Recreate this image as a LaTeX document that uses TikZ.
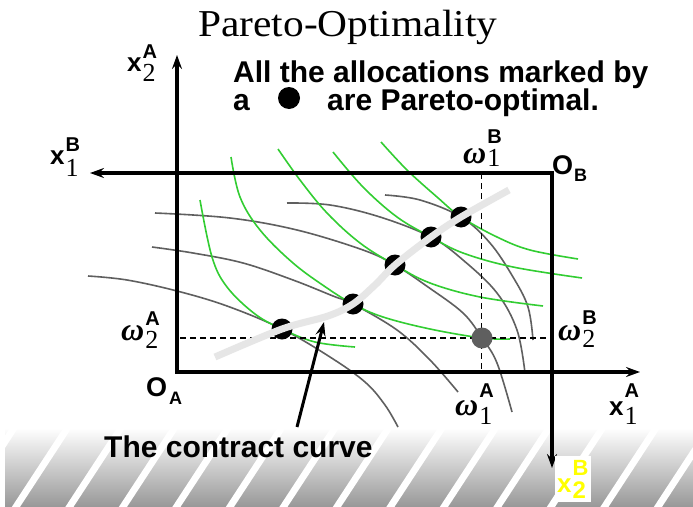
\documentclass[tikz,border=0pt]{standalone}
\usepackage{fontspec}
\setmainfont{Liberation Serif}
\setsansfont{Liberation Sans}
\usetikzlibrary{arrows.meta}
\definecolor{icgreen}{RGB}{50,205,50}
\definecolor{icgrey}{RGB}{95,95,95}
\definecolor{ccurve}{RGB}{230,230,230}
\definecolor{lblyellow}{RGB}{255,255,0}
\newcommand{\fsz}[1]{\fontsize{#1}{#1}\selectfont}
\newcommand{\xl}{{\fsz{26}\sffamily\bfseries x}}
\newcommand{\Ol}{{\fsz{27}\sffamily\bfseries O}}
\newcommand{\wl}{{\fsz{32}\rmfamily\bfseries\itshape ω}}
\newcommand{\subd}[2]{\rlap{\raisebox{-#1}{\fsz{26}\rmfamily #2}}}
\newcommand{\supl}[2]{\raisebox{#1}{\fsz{20}\sffamily\bfseries #2}}
\newcommand{\subl}[2]{\raisebox{-#1}{\fsz{18}\sffamily\bfseries #2}}
\tikzset{
  axisline/.style={line width=3.2pt, line cap=rect, -{Stealth[length=14pt,width=10pt,inset=5pt]}},
  guide/.style={line width=1.5pt, dash pattern=on 6pt off 4pt},
  icA/.style={icgreen, line width=1.6pt},
  icB/.style={icgrey, line width=1.6pt},
  pdot/.style={circle, fill=black, inner sep=0pt, minimum size=21pt},
  endow/.style={circle, fill=icgrey, inner sep=0pt, minimum size=21pt},
  lbl/.style={inner sep=0pt, anchor=base west},
  ccline/.style={ccurve, line width=7pt},
  pointer/.style={line width=3pt, -{Stealth[length=14pt,width=10pt,inset=5pt]}},
}
\begin{document}
\begin{tikzpicture}[x=1pt,y=-1pt]
\useasboundingbox (0,0) rectangle (693,506);
\fill[white] (0,0) rectangle (693,506);
% hatched band
\begin{scope}
\clip (5,428) rectangle (693,506);
\shade[top color=white, bottom color=black!40] (5,428) rectangle (693,506);
\foreach \k in {-2,...,13}
  \draw[white, line width=6.8pt] ({16.5+53.5*\k-2.6},510) -- ++(58.8,-90);
\end{scope}
% coordinates
\coordinate (OA) at (177,372);
\coordinate (yA) at (177,55);
\coordinate (xA) at (640,372);
\coordinate (OB) at (552,173);
\coordinate (xB) at (90,173);
\coordinate (yB) at (552,468);
\coordinate (g1t) at (481.5,173);
\coordinate (g1b) at (481.5,372);
\coordinate (g2l) at (180,338);
\coordinate (g2r) at (552,338);
% indifference curves of B (grey)
\draw[icB] plot[smooth, tension=0.6] coordinates {(88,276) (127,280) (177,291) (227,306) (282,329) (330,357) (365,382) (385,405) (398,427)};
\draw[icB] plot[smooth, tension=0.6] coordinates {(152,247) (193,253) (243,263) (293,280) (333,296) (353,304) (397,330) (430,360) (458,392)};
\draw[icB] plot[smooth, tension=0.6] coordinates {(155,213) (230,218) (297,230) (363,250) (395,265) (428,287) (463,313) (482,338) (497,363) (512,412)};
\draw[icB] plot[smooth, tension=0.6] coordinates {(287,203) (330,205) (380,217) (431,237) (463,260) (497,293) (517,330) (525,373)};
\draw[icB] plot[smooth, tension=0.6] coordinates {(385,195) (420,200) (461,217) (490,243) (513,277) (528,307) (533,340)};
% indifference curves of A (green)
\draw[icA] plot[smooth, tension=0.6] coordinates {(200,200) (212,257) (227,287) (255,314) (282,329) (315,342) (355,347)};
\draw[icA] plot[smooth, tension=0.6] coordinates {(231,157) (240,197) (260,230) (293,263) (327,288) (353,304) (383,317) (430,329) (482,338) (510,339)};
\draw[icA] plot[smooth, tension=0.6] coordinates {(278,149) (300,180) (327,213) (360,243) (395,265) (430,283) (480,297) (543,306)};
\draw[icA] plot[smooth, tension=0.6] coordinates {(333,152) (363,187) (397,217) (431,237) (463,253) (513,267) (582,278)};
\draw[icA] plot[smooth, tension=0.6] coordinates {(381,142) (407,170) (437,197) (461,217) (497,237) (530,250) (578,259)};
% guides
\draw[guide] (g1t) -- (g1b);
\draw[guide] (g2l) -- (g2r);
% axes
\draw[axisline] (OA) -- (yA);
\draw[axisline] (OA) -- (xA);
\draw[axisline] (OB) -- (xB);
\draw[axisline] (OB) -- (yB);
% Pareto optimal points
\node[pdot] (p1) at (282,329) {};
\node[pdot] (p2) at (353,304) {};
\node[pdot] (p3) at (395,265) {};
\node[pdot] (p4) at (431,237) {};
\node[pdot] (p5) at (461,217) {};
\coordinate (c0) at (215,357);
\coordinate (c6) at (509,190);
\draw[ccline] plot[smooth, tension=0.55] coordinates {(c0) (p1.center) (328,316) (p2.center) (375,285) (p3.center) (p4.center) (p5.center) (c6)};
\node[endow] (E) at (482,338) {};
% title and text
\node[lbl] (title) at (198,36) {\scalebox{1.09}[1]{\fsz{38}\rmfamily Pareto-Optimality}};
\node[lbl] (t1) at (233,82) {\fsz{30}\sffamily\bfseries All the allocations marked by};
\node[lbl] (t2a) at (233,110) {\fsz{30}\sffamily\bfseries a};
\node[pdot, minimum size=22pt] (t2dot) at (289,98) {};
\node[lbl] (t2b) at (327,110) {\fsz{30}\sffamily\bfseries are Pareto-optimal.};
% axis labels
\node[lbl] (lx2A) at (127,71) {\xl\kern1pt\subd{10pt}{2}\supl{13pt}{A}};
\node[lbl] (lx1B) at (50,164) {\xl\kern1pt\subd{12pt}{1}\supl{13pt}{B}};
\node[lbl] (lOB) at (552,174) {\Ol\kern1pt\subl{7pt}{B}};
\node[lbl] (lOA) at (146,396) {\Ol\kern2pt\subl{8pt}{A}};
\node[lbl] (lw1B) at (463,163) {\wl\kern1pt\subd{3pt}{1}\supl{20pt}{B}};
\node[lbl] (lw2A) at (121,340) {\wl\kern1pt\subd{8pt}{2}\supl{15pt}{A}};
\node[lbl] (lw2B) at (558,340) {\wl\kern1pt\subd{7pt}{2}\supl{16pt}{B}};
\node[lbl] (lw1A) at (455,415) {\wl\kern1pt\subd{9pt}{1}\supl{18pt}{A}};
\node[lbl] (lx1A) at (609,415) {\xl\kern1pt\subd{9pt}{1}\supl{18pt}{A}};
\node[lbl, fill=white, inner xsep=2pt, inner ysep=4pt, text=lblyellow] (lx2B) at (555,492) {\xl\kern1pt\rlap{\raisebox{-6pt}{\fsz{24}\sffamily\bfseries 2}}\raisebox{17pt}{\fsz{22}\sffamily\bfseries B}};
% contract curve label and pointer
\node[lbl] (cclabel) at (104,457) {\fsz{30}\sffamily\bfseries The contract curve};
\coordinate (ptail) at (297,427);
\coordinate (ptip) at (324,322);
\draw[pointer] (ptail) -- (ptip);
\end{tikzpicture}
\end{document}
